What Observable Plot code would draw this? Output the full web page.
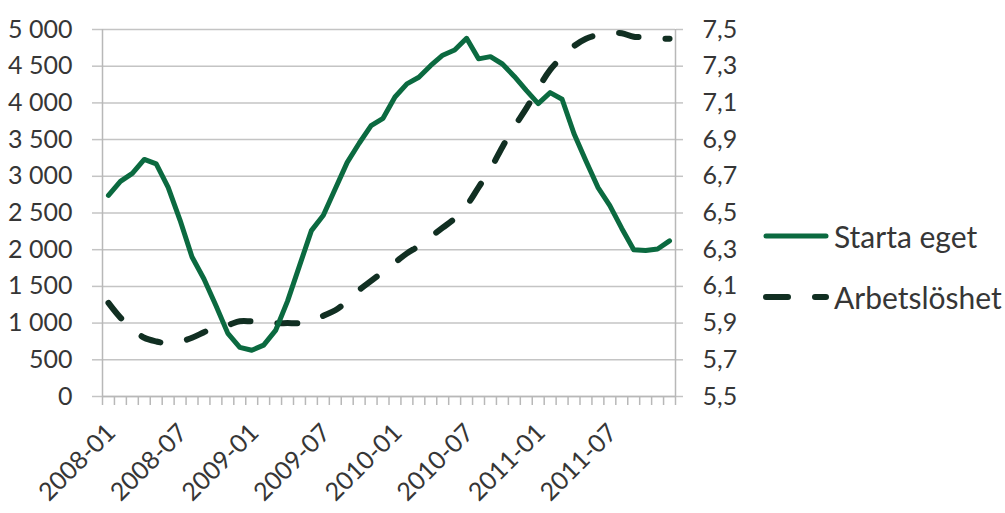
<!DOCTYPE html>
<html><head><meta charset="utf-8">
<script src="https://cdn.jsdelivr.net/npm/d3@7"></script>
<script src="https://cdn.jsdelivr.net/npm/@observablehq/plot@0.6"></script>
<style>
body{margin:0;background:#fff;}
#chart{position:relative;width:1005px;height:513px;overflow:hidden;}
.leg{position:absolute;left:763px;height:40px;display:flex;align-items:center;font-family:Lato,sans-serif;font-size:30px;color:#363636;}
.leg svg{margin-right:5px;}
</style></head><body><div id="chart"></div>
<script>
const months = ["2008-01","2008-02","2008-03","2008-04","2008-05","2008-06","2008-07","2008-08","2008-09","2008-10","2008-11","2008-12",
"2009-01","2009-02","2009-03","2009-04","2009-05","2009-06","2009-07","2009-08","2009-09","2009-10","2009-11","2009-12",
"2010-01","2010-02","2010-03","2010-04","2010-05","2010-06","2010-07","2010-08","2010-09","2010-10","2010-11","2010-12",
"2011-01","2011-02","2011-03","2011-04","2011-05","2011-06","2011-07","2011-08","2011-09","2011-10","2011-11","2011-12"];
const startaEget = [2740,2930,3040,3230,3170,2850,2400,1900,1600,1240,860,670,
630,700,900,1300,1780,2260,2470,2830,3190,3450,3690,3790,
4080,4260,4350,4510,4650,4720,4880,4600,4630,4530,4360,4170,
3990,4140,4050,3580,3210,2850,2600,2290,2000,1990,2010,2120];
const arbetsloshet = [6.01,5.93,5.87,5.82,5.80,5.79,5.80,5.82,5.85,5.88,5.89,5.91,
5.91,5.91,5.90,5.90,5.90,5.91,5.94,5.97,6.02,6.08,6.13,6.18,
6.23,6.28,6.32,6.37,6.42,6.47,6.54,6.64,6.74,6.86,6.97,7.07,
7.18,7.28,7.35,7.41,7.45,7.47,7.48,7.48,7.46,7.46,7.45,7.45];
const leftTicks = [0,500,1000,1500,2000,2500,3000,3500,4000,4500,5000];
const rightTicks = [5.5,5.7,5.9,6.1,6.3,6.5,6.7,6.9,7.1,7.3,7.5];
const xLabels = ["2008-01","2008-07","2009-01","2009-07","2010-01","2010-07","2011-01","2011-07"];
const seriesNames = ["Starta eget","Arbetslöshet"];
const colors = ["#0b6a40","#112f22"];

const rMin = 5.5, rMax = 7.5, lMax = 5000;
const toLeft = u => (u - rMin) / (rMax - rMin) * lMax;
const data = months.map((m,i)=>({i, m, s: startaEget[i], a: toLeft(arbetsloshet[i])}));
const labelData = xLabels.map(m => ({i: months.indexOf(m), m}));
const bounds = d3.range(months.length + 1).map(i => i - 0.5);
const fmtLeft = d => d3.format(",")(d).replace(/,/g, " ");
const fmtRight = (d) => rightTicks[leftTicks.indexOf(d)].toFixed(1).replace(".", ",");

const chart = Plot.plot({
  width: 1005, height: 513,
  marginLeft: 102, marginRight: 330, marginTop: 29, marginBottom: 117,
  x: {domain: [-0.5, months.length - 0.5], axis: null},
  y: {domain: [0, lMax], axis: null},
  style: {fontFamily: "Lato, sans-serif", fontSize: "25px", color: "#363636", background: "white", overflow: "visible"},
  marks: [
    Plot.gridY(leftTicks, {stroke: "#c4c4c4", strokeOpacity: 1, strokeWidth: 1.5}),
    Plot.axisY(leftTicks, {anchor: "left", label: null, tickSize: 10, tickPadding: 20, tickFormat: fmtLeft, stroke: "#c4c4c4", strokeWidth: 1.5, strokeOpacity: 1, fontSize: 25}),
    Plot.axisY(leftTicks, {anchor: "right", label: null, tickSize: 7, tickPadding: 20, tickFormat: fmtRight, stroke: "#c4c4c4", strokeWidth: 1.5, strokeOpacity: 1, fontSize: 25, textAnchor: "start"}),
    Plot.axisX(bounds, {anchor: "bottom", label: null, tickSize: 9, tickFormat: () => "", stroke: "#b8b8b8", strokeWidth: 1.5, strokeOpacity: 1}),
    Plot.ruleX([-0.5, months.length - 0.5], {stroke: "#b8b8b8", strokeWidth: 1.5}),
    Plot.ruleY([0], {stroke: "#b8b8b8", strokeWidth: 1.5}),
    Plot.line(data, {x: "i", y: "a", stroke: colors[1], strokeWidth: 6, strokeDasharray: "20 27", strokeLinecap: "round", strokeLinejoin: "round", curve: "catmull-rom"}),
    Plot.line(data, {x: "i", y: "s", stroke: colors[0], strokeWidth: 5, strokeLinecap: "round", strokeLinejoin: "round"}),
    Plot.text(labelData, {x: "i", y: () => 0, text: "m", rotate: -45, textAnchor: "end", lineAnchor: "middle", dx: 3, dy: 32, fontSize: 25, fill: "#363636"})
  ]
});
const root = document.getElementById("chart");
root.appendChild(chart);

const legRows = [
  {name: seriesNames[0], color: colors[0], top: 216, dash: null, w: 5},
  {name: seriesNames[1], color: colors[1], top: 277, dash: "22 27", w: 6}
];
legRows.forEach(r => {
  const div = document.createElement("div");
  div.className = "leg";
  div.style.top = r.top + "px";
  div.innerHTML = `<svg width="66" height="14"><line x1="3" x2="63" y1="7" y2="7" stroke="${r.color}" stroke-width="${r.w}" stroke-linecap="round" ${r.dash ? `stroke-dasharray="${r.dash}"` : ""}/></svg><span>${r.name}</span>`;
  root.appendChild(div);
});
</script>
</body></html>
